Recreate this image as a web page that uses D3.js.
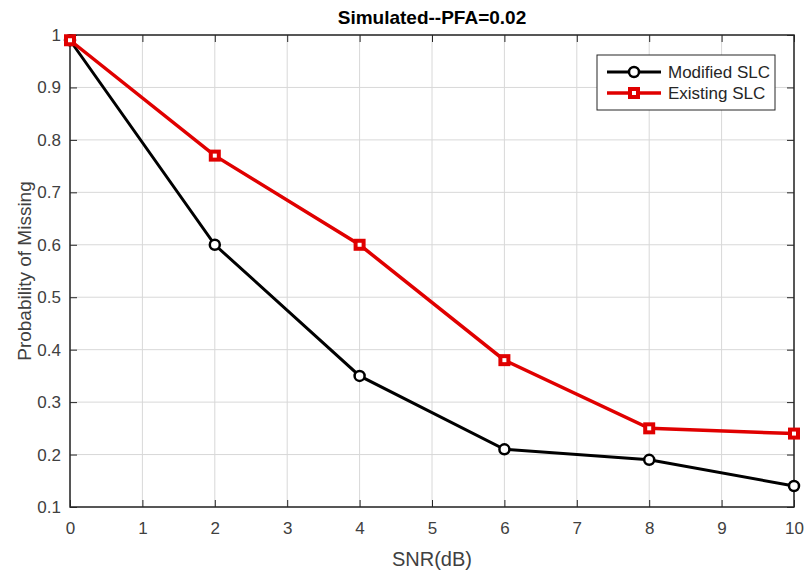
<!DOCTYPE html>
<html>
<head>
<meta charset="utf-8">
<title>Simulated--PFA=0.02</title>
<script src="https://d3js.org/d3.v7.min.js"></script>
<style>
  body { margin: 0; background: #fff; }
  text { font-family: "Liberation Sans", Arial, sans-serif; }
</style>
</head>
<body>
<div id="chart"></div>
<script>

// data
let snr = [0, 2, 4, 6, 8, 10];
let modified = [0.99, 0.60, 0.35, 0.21, 0.19, 0.14];
let existing = [0.99, 0.77, 0.60, 0.38, 0.25, 0.24];
let xTicks = [0, 1, 2, 3, 4, 5, 6, 7, 8, 9, 10];
let yTicks = [0.1, 0.2, 0.3, 0.4, 0.5, 0.6, 0.7, 0.8, 0.9, 1];
let seriesNames = ["Modified SLC", "Existing SLC"];

let W = 809, H = 576;
let margin = {top: 35, right: 15, bottom: 69, left: 70};
let w = W - margin.left - margin.right;
let h = H - margin.top - margin.bottom;

let svg = d3.select("#chart").append("svg")
    .attr("width", W)
    .attr("height", H);

let g = svg.append("g")
    .attr("transform", "translate(" + margin.left + "," + margin.top + ")");

let xScale = d3.scaleLinear().domain([0, 10]).range([0, w]);
let yScale = d3.scaleLinear().domain([0.1, 1]).range([h, 0]);

// grid
g.append("g").selectAll("line").data(xTicks).enter().append("line")
    .attr("x1", d => xScale(d)).attr("x2", d => xScale(d))
    .attr("y1", 0).attr("y2", h)
    .attr("stroke", "#d8d8d8").attr("stroke-width", 1);
g.append("g").selectAll("line").data(yTicks).enter().append("line")
    .attr("y1", d => yScale(d)).attr("y2", d => yScale(d))
    .attr("x1", 0).attr("x2", w)
    .attr("stroke", "#d8d8d8").attr("stroke-width", 1);

// axes (ticks inside, like matlab)
let axisColor = "#262626";
function styleAxis(sel) {
    sel.select(".domain").remove();
    sel.selectAll(".tick line").attr("stroke", axisColor);
    sel.selectAll(".tick text")
        .attr("fill", "#404040")
        .style("font-size", "17px")
        .style("font-family", "Liberation Sans, Arial, sans-serif");
}

g.append("g")
    .attr("transform", "translate(0," + h + ")")
    .call(d3.axisBottom(xScale).tickValues(xTicks).tickFormat(d3.format("d")).tickSizeInner(-7).tickPadding(15))
    .call(styleAxis);
g.append("g")
    .call(d3.axisTop(xScale).tickValues(xTicks).tickSizeInner(-7).tickFormat(""))
    .call(styleAxis);
g.append("g")
    .call(d3.axisLeft(yScale).tickValues(yTicks).tickFormat(d => d === 1 ? "1" : d3.format(".1f")(d)).tickSizeInner(-7).tickPadding(9))
    .call(styleAxis);
g.append("g")
    .attr("transform", "translate(" + w + ",0)")
    .call(d3.axisRight(yScale).tickValues(yTicks).tickSizeInner(-7).tickFormat(""))
    .call(styleAxis);

// box
g.append("rect")
    .attr("x", 0).attr("y", 0).attr("width", w).attr("height", h)
    .attr("fill", "none").attr("stroke", axisColor).attr("stroke-width", 1.5);

// series
let line = d3.line()
    .x(d => xScale(d[0]))
    .y(d => yScale(d[1]));

let blackData = snr.map((s, i) => [s, modified[i]]);
let redData = snr.map((s, i) => [s, existing[i]]);

g.append("path").datum(blackData)
    .attr("d", line).attr("fill", "none")
    .attr("stroke", "#000").attr("stroke-width", 3);
g.selectAll(".mk-black").data(blackData).enter().append("circle")
    .attr("class", "mk-black")
    .attr("cx", d => xScale(d[0])).attr("cy", d => yScale(d[1]))
    .attr("r", 5).attr("fill", "#fff")
    .attr("stroke", "#000").attr("stroke-width", 2.5);

g.append("path").datum(redData)
    .attr("d", line).attr("fill", "none")
    .attr("stroke", "#e00000").attr("stroke-width", 3.5);
g.selectAll(".mk-red").data(redData).enter().append("rect")
    .attr("class", "mk-red")
    .attr("x", d => xScale(d[0]) - 4).attr("y", d => yScale(d[1]) - 4)
    .attr("width", 8).attr("height", 8)
    .attr("fill", "#fff")
    .attr("stroke", "#e00000").attr("stroke-width", 4);

// title and labels
svg.append("text")
    .attr("x", margin.left + w / 2).attr("y", 24)
    .attr("text-anchor", "middle")
    .style("font-size", "19px").style("font-weight", "bold")
    .attr("fill", "#000")
    .text("Simulated--PFA=0.02");

svg.append("text")
    .attr("x", margin.left + w / 2).attr("y", 566)
    .attr("text-anchor", "middle")
    .style("font-size", "20px")
    .attr("fill", "#404040")
    .text("SNR(dB)");

svg.append("text")
    .attr("transform", "translate(31," + (margin.top + h / 2) + ") rotate(-90)")
    .attr("text-anchor", "middle")
    .style("font-size", "19px")
    .attr("fill", "#404040")
    .text("Probability of Missing");

// legend
let lg = svg.append("g").attr("transform", "translate(597,55)");
lg.append("rect")
    .attr("x", 0).attr("y", 0).attr("width", 178).attr("height", 55)
    .attr("fill", "#fff").attr("stroke", axisColor).attr("stroke-width", 1);

let legendColors = ["#000", "#e00000"];
seriesNames.forEach(function(name, i) {
    let yy = 17 + i * 21;
    lg.append("line")
        .attr("x1", 10).attr("x2", 64).attr("y1", yy).attr("y2", yy)
        .attr("stroke", legendColors[i]).attr("stroke-width", i ? 3.5 : 3);
    if (i === 0) {
        lg.append("circle").attr("cx", 37).attr("cy", yy).attr("r", 5)
            .attr("fill", "#fff").attr("stroke", "#000").attr("stroke-width", 2.5);
    } else {
        lg.append("rect").attr("x", 33).attr("y", yy - 4).attr("width", 8).attr("height", 8)
            .attr("fill", "#fff").attr("stroke", "#e00000").attr("stroke-width", 4);
    }
    lg.append("text")
        .attr("x", 71).attr("y", yy + 6)
        .style("font-size", "17px")
        .attr("fill", "#262626")
        .text(name);
});

</script>
</body>
</html>
